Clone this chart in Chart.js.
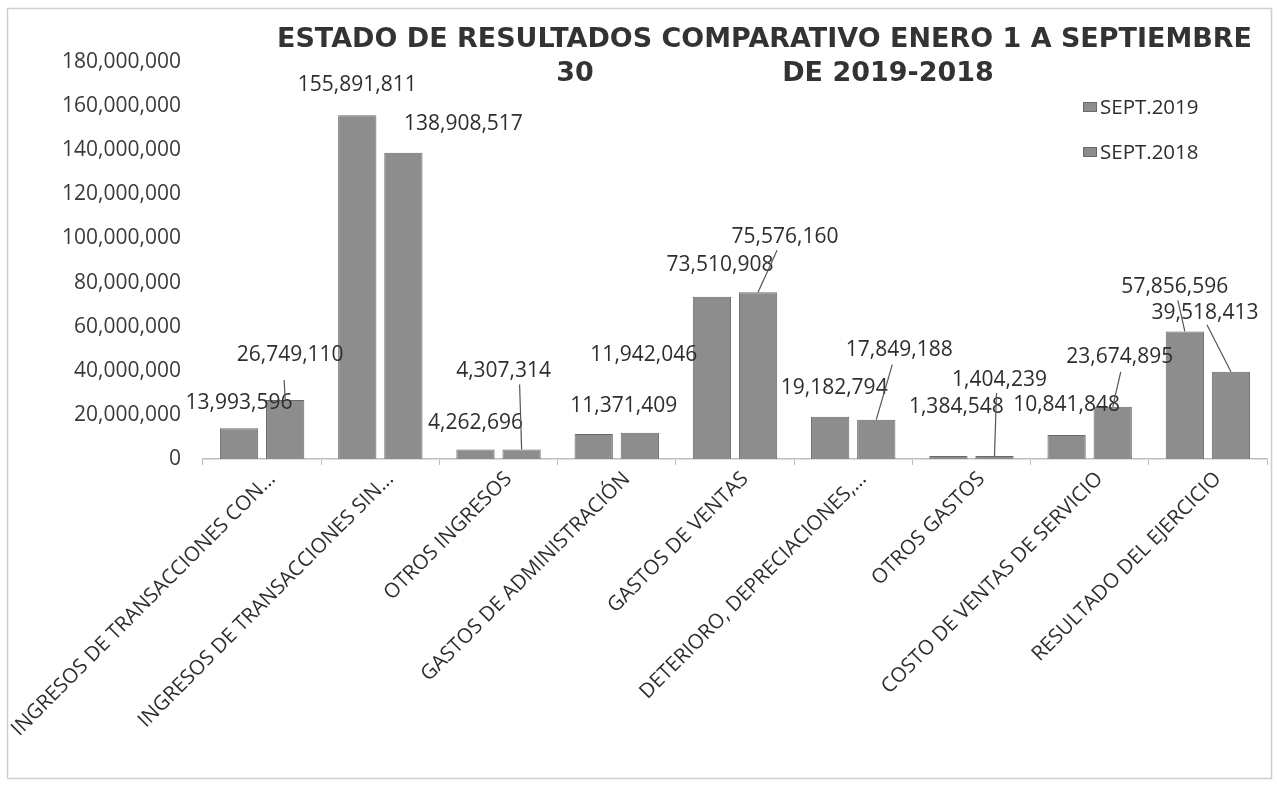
<!DOCTYPE html>
<html><head><meta charset="utf-8">
<script src="https://cdn.jsdelivr.net/npm/chart.js@4.4.1/dist/chart.umd.min.js"></script>
<style>html,body{margin:0;padding:0;background:#fff}#wrap{position:relative;width:1277px;height:789px}</style>
</head><body><div id="wrap"><canvas id="c" width="1277" height="789"></canvas></div>
<script>
const categories = ['INGRESOS DE TRANSACCIONES CON...','INGRESOS DE TRANSACCIONES SIN...','OTROS INGRESOS','GASTOS DE ADMINISTRACIÓN','GASTOS DE VENTAS','DETERIORO, DEPRECIACIONES,...','OTROS GASTOS','COSTO DE VENTAS DE SERVICIO','RESULTADO DEL EJERCICIO'];
const seriesNames = ['SEPT.2019','SEPT.2018'];
const sept2019 = [13993596,155891811,4262696,11371409,73510908,19182794,1384548,10841848,57856596];
const sept2018 = [26749110,138908517,4307314,11942046,75576160,17849188,1404239,23674895,39518413];
const yTicks = [0,20000000,40000000,60000000,80000000,100000000,120000000,140000000,160000000,180000000];
const titleLine1 = 'ESTADO DE RESULTADOS COMPARATIVO ENERO 1 A SEPTIEMBRE';
const titleLine2a = '30';
const titleLine2b = 'DE 2019-2018';

// label placement (pixel offsets from bar top centre) and leader-line end points (offsets from label centre)
const labelOffsets = [
  [[0,-25],[0,-30],[0,-27],[30,-28],[8,-32],[4,-29],[8,-49],[0,-30],[-10,-44]],
  [[5,-45],[60,-29],[-18,-78],[4,-78],[27,-55],[23,-70],[5,-76],[7,-50],[-26,-59]]
];
const leaderEnds = [
  [null,null,null,null,null,null,null,null,[3,13]],
  [[-6,25],null,[16,13],null,[-8,13],[-7,15],[-3,13],[1,15],[2,12]]
];

const fmt = v => Math.round(v).toLocaleString('en-US');
const FONT = '"Open Sans", "Noto Sans", sans-serif';
const TXT = '#2e2e2e';

const framePlugin = {
  id:'frame',
  beforeDraw(chart){
    const ctx = chart.ctx;
    ctx.save();
    ctx.fillStyle = '#fff';
    ctx.fillRect(0,0,chart.width,chart.height);
    ctx.strokeStyle = '#cfcfcf';
    ctx.lineWidth = 1.5;
    ctx.strokeRect(7.5,8.5,1264,770);
    ctx.restore();
  }
};

const titlePlugin = {
  id:'customTitle',
  afterDraw(chart){
    const ctx = chart.ctx;
    ctx.save();
    ctx.fillStyle = '#333';
    ctx.font = 'bold 26px "DejaVu Sans", Verdana, sans-serif';
    ctx.textBaseline = 'alphabetic';
    ctx.textAlign = 'left';
    const w = ctx.measureText(titleLine1).width;
    const sx = 975 / w;
    ctx.save(); ctx.translate(277, 47); ctx.scale(sx, 1); ctx.fillText(titleLine1, 0, 0); ctx.restore();
    ctx.textAlign = 'center';
    ctx.save(); ctx.translate(575, 81); ctx.scale(sx,1); ctx.fillText(titleLine2a, 0, 0); ctx.restore();
    ctx.save(); ctx.translate(888, 81); ctx.scale(sx,1); ctx.fillText(titleLine2b, 0, 0); ctx.restore();
    ctx.restore();
  }
};

const legendPlugin = {
  id:'customLegend',
  afterDraw(chart){
    const ctx = chart.ctx;
    ctx.save();
    ctx.font = '20.5px ' + FONT;
    ctx.textBaseline = 'middle';
    ctx.textAlign = 'left';
    chart.data.datasets.forEach((ds,i)=>{
      const y = 107 + i*45;
      ctx.fillStyle = ds.backgroundColor;
      ctx.fillRect(1083, y-5, 14, 10);
      ctx.strokeStyle = ds.borderColor; ctx.lineWidth = 1;
      ctx.strokeRect(1083.5, y-4.5, 13, 9);
      ctx.fillStyle = TXT;
      ctx.fillText(ds.label, 1100, y+1);
    });
    ctx.restore();
  }
};

const labelPlugin = {
  id:'barLabels',
  afterDatasetsDraw(chart){
    const ctx = chart.ctx;
    ctx.save();
    ctx.font = '21px ' + FONT;
    ctx.textAlign = 'center';
    ctx.textBaseline = 'middle';
    chart.data.datasets.forEach((ds,di)=>{
      const meta = chart.getDatasetMeta(di);
      meta.data.forEach((bar,i)=>{
        const [dx,dy] = labelOffsets[di][i];
        const lx = bar.x + dx, ly = bar.y + dy;
        const le = leaderEnds[di][i];
        if (le) {
          ctx.strokeStyle = '#555';
          ctx.lineWidth = 1.2;
          ctx.beginPath();
          ctx.moveTo(lx + le[0], ly + le[1]);
          ctx.lineTo(bar.x, bar.y);
          ctx.stroke();
        }
        ctx.fillStyle = TXT;
        ctx.fillText(fmt(ds.data[i]), lx, ly);
      });
    });
    ctx.restore();
  }
};

new Chart(document.getElementById('c'), {
  type:'bar',
  data:{
    labels: categories,
    datasets:[
      {label: seriesNames[0], data: sept2019, backgroundColor:'#8d8d8d', borderColor:'#6a6a6a', borderWidth:1},
      {label: seriesNames[1], data: sept2018, backgroundColor:'#8d8d8d', borderColor:'#6a6a6a', borderWidth:1}
    ]
  },
  options:{
    responsive:false,
    animation:false,
    devicePixelRatio:1,
    categoryPercentage:0.78,
    barPercentage:0.83,
    layout:{padding:{top:62,left:60,right:10,bottom:0}},
    plugins:{legend:{display:false}, title:{display:false}, tooltip:{enabled:false}},
    scales:{
      x:{
        grid:{display:true, offset:true, drawOnChartArea:false, drawTicks:true, tickLength:6, color:'#bdbdbd'},
        border:{display:true, color:'#bdbdbd', width:1.5},
        ticks:{minRotation:45, maxRotation:45, autoSkip:false, color:TXT, font:{family:FONT, size:20.5}, padding:2, labelOffset:10},
        afterFit(s){ s.height = 330; s.paddingLeft = 0; s.paddingRight = 0; }
      },
      y:{
        min:0, max:180000000,
        grid:{display:false, drawTicks:false},
        border:{display:false},
        afterBuildTicks(s){ s.ticks = yTicks.map(v=>({value:v})); },
        ticks:{color:'#3a3a3a', font:{family:FONT, size:21}, padding:22, callback:v=>fmt(v)},
        afterFit(s){ s.width = 143; }
      }
    }
  },
  plugins:[framePlugin, labelPlugin, titlePlugin, legendPlugin]
});
</script>
</body></html>
